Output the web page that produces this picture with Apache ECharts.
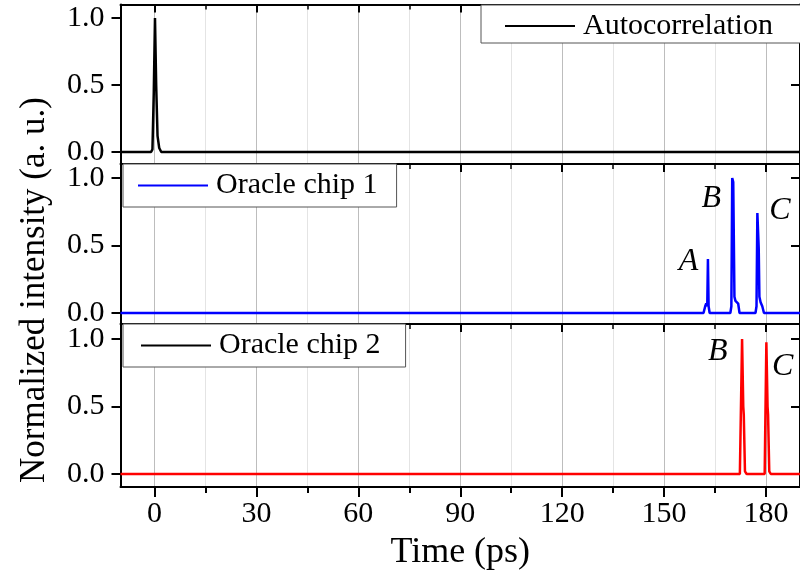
<!DOCTYPE html>
<html><head><meta charset="utf-8">
<script src="https://cdn.jsdelivr.net/npm/echarts@6/dist/echarts.min.js"></script>
<style>html,body{margin:0;padding:0;background:#fff}#c{width:800px;height:581px}</style>
</head><body><div id="c"></div>
<script>
// ---- data ----
const xMajorTicks = [0, 30, 60, 90, 120, 150, 180];
const xMinorTicks = [15, 45, 75, 105, 135, 165];
const yTicks = [0, 0.5, 1.0];

const autoTime      = [-10, -1.0, -0.6, -0.2, 0.15, 0.5, 0.9, 1.4, 2.0, 190];
const autoIntensity = [0, 0, 0.02, 0.45, 1.0, 0.5, 0.12, 0.03, 0, 0];

const chip1Time      = [-10, 161.6, 162.1, 162.4, 162.7, 162.9, 163.1, 163.4, 169.5, 169.8, 170.05, 170.35, 170.7, 171.0, 171.8, 172.2, 176.9, 177.2, 177.45, 177.85, 178.05, 178.4, 178.9, 179.4, 190];
const chip1Intensity = [0, 0, 0.05, 0.07, 0.05, 0.40, 0.05, 0, 0, 0.05, 1.0, 0.97, 0.12, 0.09, 0.07, 0, 0, 0.05, 0.74, 0.48, 0.12, 0.08, 0.05, 0, 0];

const chip2Time      = [-10, 172.3, 172.95, 173.3, 173.45, 173.8, 174.3, 179.6, 180.1, 180.45, 180.6, 180.95, 181.4, 190];
const chip2Intensity = [0, 0, 1.0, 0.5, 0.44, 0.02, 0, 0, 0.975, 0.5, 0.44, 0.02, 0, 0];

const annChip1X = [157.2, 163.9, 184.1];
const annChip1Y = [0.38, 0.845, 0.758];
const annChip1Text = ['A', 'B', 'C'];
const annChip2X = [165.8, 184.9];
const annChip2Y = [0.906, 0.795];
const annChip2Text = ['B', 'C'];

const seriesNames = ['Autocorrelation', 'Oracle chip 1', 'Oracle chip 2'];
const seriesColors = ['#000000', '#0000ff', '#ff0000'];

// ---- layout ----
const FONT = '"Liberation Serif", "Times New Roman", serif';
const panels = [
  {top: 4.5, height: 159.5, min: -0.0896, max: 1.1007},
  {top: 164, height: 160, min: -0.0815, max: 1.1037},
  {top: 324, height: 163, min: -0.0963, max: 1.111}
];

const zip = (a, b) => a.map((v, i) => [v, b[i]]);

const grid = [], xAxis = [], yAxis = [], series = [];
panels.forEach((p, gi) => {
  const isBottom = gi === 2;
  grid.push({left: 120.5, width: 682, top: p.top, height: p.height, containLabel: false});
  // major bottom axis (gridlines + labels on last panel)
  xAxis.push({
    gridIndex: gi, type: 'value', min: -10, max: 190, position: 'bottom',
    axisLine: {show: isBottom, onZero: false, lineStyle: {color: '#000', width: 2}},
    axisTick: {show: isBottom, customValues: xMajorTicks, inside: false, length: 10, lineStyle: {color: '#000', width: 2}},
    axisLabel: {show: isBottom, customValues: xMajorTicks, margin: 12, fontFamily: FONT, fontSize: 30, color: '#000'},
    splitLine: {show: true, lineStyle: {color: '#bdbdbd', width: 1}},
    name: isBottom ? 'Time (ps)' : '', nameLocation: 'middle', nameGap: 48,
    nameTextStyle: {fontFamily: FONT, fontSize: 36, color: '#000'}
  });
  // minor bottom axis
  xAxis.push({
    gridIndex: gi, type: 'value', min: -10, max: 190, position: 'bottom',
    axisLine: {show: false, onZero: false},
    axisTick: {show: isBottom, customValues: xMinorTicks, inside: false, length: 6, lineStyle: {color: '#000', width: 2}},
    axisLabel: {show: false, customValues: xMinorTicks},
    splitLine: {show: true, lineStyle: {color: '#e4e4e4', width: 1}}
  });
  // top axis majors
  xAxis.push({
    gridIndex: gi, type: 'value', min: -10, max: 190, position: 'top',
    axisLine: {show: true, onZero: false, lineStyle: {color: '#000', width: 2}},
    axisTick: {show: true, customValues: xMajorTicks, inside: true, length: 8, lineStyle: {color: '#000', width: 2}},
    axisLabel: {show: false, customValues: xMajorTicks},
    splitLine: {show: false}
  });
  // top axis minors
  xAxis.push({
    gridIndex: gi, type: 'value', min: -10, max: 190, position: 'top',
    axisLine: {show: false, onZero: false},
    axisTick: {show: true, customValues: xMinorTicks, inside: true, length: 5, lineStyle: {color: '#000', width: 1.5}},
    axisLabel: {show: false, customValues: xMinorTicks},
    splitLine: {show: false}
  });
  yAxis.push({
    gridIndex: gi, type: 'value', min: p.min, max: p.max, position: 'left',
    axisLine: {show: true, onZero: false, lineStyle: {color: '#000', width: 2}},
    axisTick: {show: true, customValues: yTicks, inside: false, length: 9, lineStyle: {color: '#000', width: 2}},
    axisLabel: {show: true, customValues: yTicks, margin: 16, fontFamily: FONT, fontSize: 30, color: '#000',
                formatter: v => Number(v).toFixed(1)},
    splitLine: {show: false}
  });
  yAxis.push({
    gridIndex: gi, type: 'value', min: p.min, max: p.max, position: 'right',
    axisLine: {show: true, onZero: false, lineStyle: {color: '#000', width: 2}},
    axisTick: {show: true, customValues: yTicks, inside: true, length: 9, lineStyle: {color: '#000', width: 2}},
    axisLabel: {show: false, customValues: yTicks},
    splitLine: {show: false}
  });
});

const lineData = [zip(autoTime, autoIntensity), zip(chip1Time, chip1Intensity), zip(chip2Time, chip2Intensity)];
lineData.forEach((d, gi) => {
  series.push({
    name: seriesNames[gi], type: 'line', xAxisIndex: gi * 4, yAxisIndex: gi * 2,
    data: d, showSymbol: false, symbol: 'none', clip: true,
    lineStyle: {color: seriesColors[gi], width: 2.5}, itemStyle: {color: seriesColors[gi]},
    z: 5
  });
});

const annSeries = (xs, ys, ts, gi) => ({
  type: 'scatter', xAxisIndex: gi * 4, yAxisIndex: gi * 2, symbolSize: 0, silent: true,
  itemStyle: {color: '#000', opacity: 1},
  data: xs.map((x, i) => ({value: [x, ys[i]], label: {formatter: ts[i]}})),
  label: {show: true, position: 'inside', fontFamily: FONT, fontStyle: 'italic', fontSize: 32,
          color: '#000', opacity: 1, textBorderWidth: 0},
  z: 6
});
series.push(annSeries(annChip1X, annChip1Y, annChip1Text, 1));
series.push(annSeries(annChip2X, annChip2Y, annChip2Text, 2));

const legendBase = {
  orient: 'horizontal', icon: 'rect', itemHeight: 2, itemWidth: 70, selectedMode: false,
  borderColor: '#555', borderWidth: 1, borderRadius: 0, backgroundColor: '#fff',
  textStyle: {fontFamily: FONT, fontSize: 30, color: '#000', lineHeight: 30, padding: [0, 0, 0, 3]}
};
const legend = [
  Object.assign({}, legendBase, {left: 481, top: 5, padding: [6, 30, 2, 24], data: [seriesNames[0]]}),
  Object.assign({}, legendBase, {left: 123, top: 164, padding: [6.5, 19, 6.5, 15], data: [seriesNames[1]]}),
  Object.assign({}, legendBase, {left: 123, top: 324, padding: [6.5, 25, 6.5, 18],
    data: [{name: seriesNames[2], itemStyle: {color: '#000'}}]})
];

const chart = echarts.init(document.getElementById('c'), null, {renderer: 'canvas'});
chart.setOption({
  animation: false,
  backgroundColor: '#fff',
  grid, xAxis, yAxis, series, legend,
  graphic: [{
    type: 'text', x: 35, y: 290, rotation: Math.PI / 2,
    style: {text: 'Normalized intensity (a. u.)', font: '35px ' + FONT, fill: '#000', align: 'center', verticalAlign: 'middle'}
  }]
});
</script></body></html>
